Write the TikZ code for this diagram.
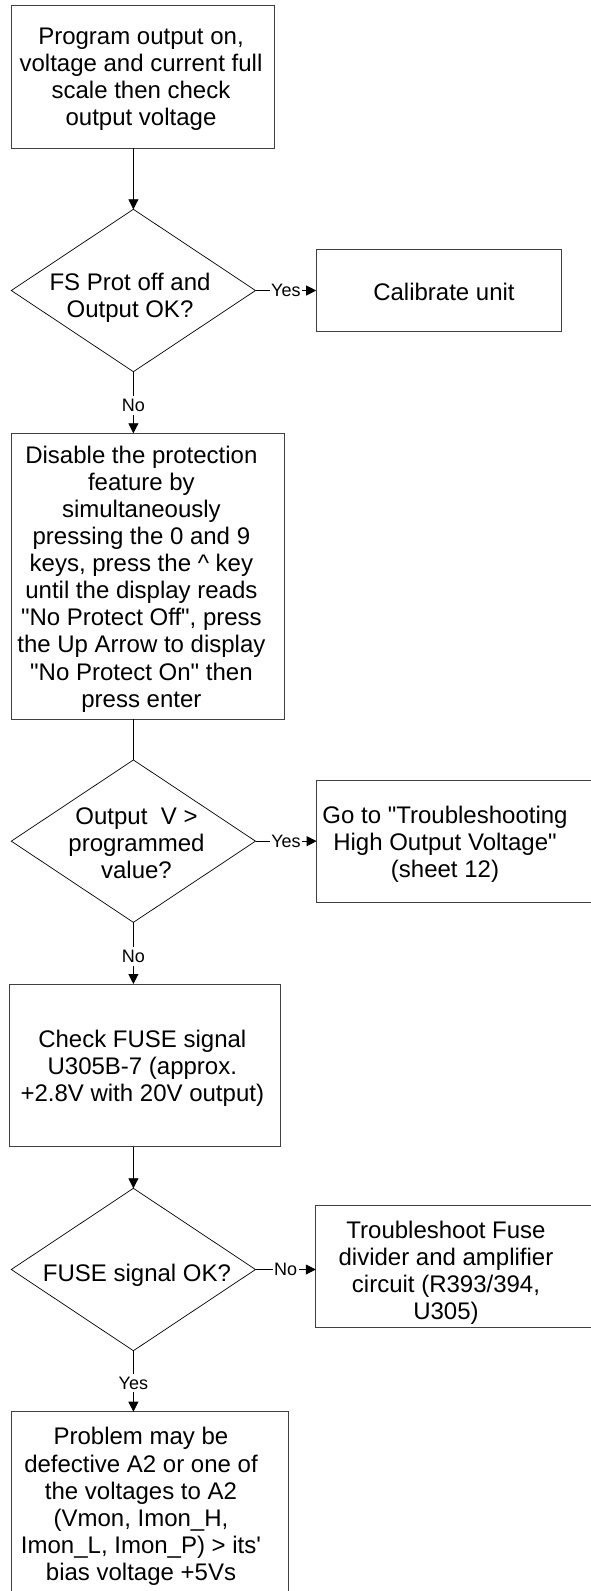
\documentclass[tikz,border=0pt]{standalone}
\usepackage{fontspec}
\setmainfont{Liberation Sans}[Ligatures={TeXOff,CommonOff}]
\usetikzlibrary{shapes.geometric,arrows.meta}
\tikzset{
  box/.style={draw=black!75, line width=0.9pt, inner sep=0pt, outer sep=0pt},
  dia/.style={diamond, draw=black, line width=0.7pt, inner sep=0pt, outer sep=0pt,
              minimum width=244.2pt, minimum height=162.4pt},
  txt/.style={align=center, inner sep=0pt, font=\fontsize{24}{27.1}\selectfont},
  lbl/.style={fill=white, inner xsep=1.5pt, inner ysep=3pt, font=\fontsize{18}{20}\selectfont},
  arr/.style={line width=0.8pt, -{Triangle[length=10pt,width=10pt]}},
  con/.style={line width=0.8pt},
}
\begin{document}
\begin{tikzpicture}[x=1pt,y=-1pt]
\useasboundingbox (0,0) rectangle (591,1591);
\clip (0,0) rectangle (591,1591);
\fill[white] (0,0) rectangle (591,1591);

% boxes
\node[box, minimum width=262.7pt, minimum height=143pt] (b1) at (142.65,76.8) {};
\node[dia] (d1) at (133.4,290.5) {};
\node[box, minimum width=245.4pt, minimum height=81.7pt] (cal) at (438.9,290.5) {};
\node[box, minimum width=272.9pt, minimum height=285.7pt] (b2) at (147.75,576.15) {};
\node[dia] (d2) at (133.4,841.15) {};
\node[box, minimum width=303.4pt, minimum height=122.3pt] (b3) at (468.3,841.15) {};
\node[box, minimum width=271.4pt, minimum height=162.7pt] (b4) at (145.1,1065.35) {};
\node[dia] (d3) at (133.4,1269.5) {};
\node[box, minimum width=304.2pt, minimum height=122pt] (b5) at (467.9,1266.7) {};
\node[box, minimum width=277pt, minimum height=188.3pt] (b6) at (149.8,1505.85) {};

% texts
\node[txt] (b1t) at (141,79.5) {Program output on,\\voltage and current full\\scale then check\\output voltage};
\node[txt] (d1t) at (130,297.5) {FS Prot off and\\Output OK?};
\node[txt] (calt) at (444,292) {Calibrate unit};
\node[txt] (b2t) at (141.4,579) {Disable the protection\\feature by\\simultaneously\\pressing the 0 and 9\\keys, press the \textasciicircum\ key\\until the display reads\\"No Protect Off", press\\the Up Arrow to display\\"No Protect On" then\\press enter};
\node[txt] (d2t) at (136.5,843) {Output~~V >\\programmed\\value?};
\node[txt] (b3t) at (445,844) {Go to "Troubleshooting\\High Output Voltage"\\(sheet 12)};
\node[txt] (b4t) at (142.3,1068.5) {Check FUSE signal\\U305B-7 (approx.\\+2.8V with 20V output)};
\node[txt] (d3t) at (137,1275) {FUSE signal OK?};
\node[txt] (b5t) at (446,1273) {Troubleshoot Fuse\\divider and amplifier\\circuit (R393/394,\\U305)};
\node[txt] (b6t) at (141,1506.5) {Problem may be\\defective A2 or one of\\the voltages to A2\\(Vmon, Imon\_H,\\Imon\_L, Imon\_P) > its'\\bias voltage +5Vs};

% connectors
\draw[arr] (d1.north |- b1.south) -- (d1.north);
\draw[arr] (d1.east) -- node[lbl] {Yes} (d1.east -| cal.west);
\draw[arr] (d1.south) -- node[lbl, pos=0.55] {No} (d1.south |- b2.north);
\draw[con] (d2.north |- b2.south) -- (d2.north);
\draw[arr] (d2.east) -- node[lbl] {Yes} (d2.east -| b3.west);
\draw[arr] (d2.south) -- node[lbl, pos=0.55] {No} (d2.south |- b4.north);
\draw[arr] (d3.north |- b4.south) -- (d3.north);
\draw[arr] (d3.east) -- node[lbl] {No} (d3.east -| b5.west);
\draw[arr] (d3.south) -- node[lbl, pos=0.53] {Yes} (d3.south |- b6.north);
\end{tikzpicture}
\end{document}
